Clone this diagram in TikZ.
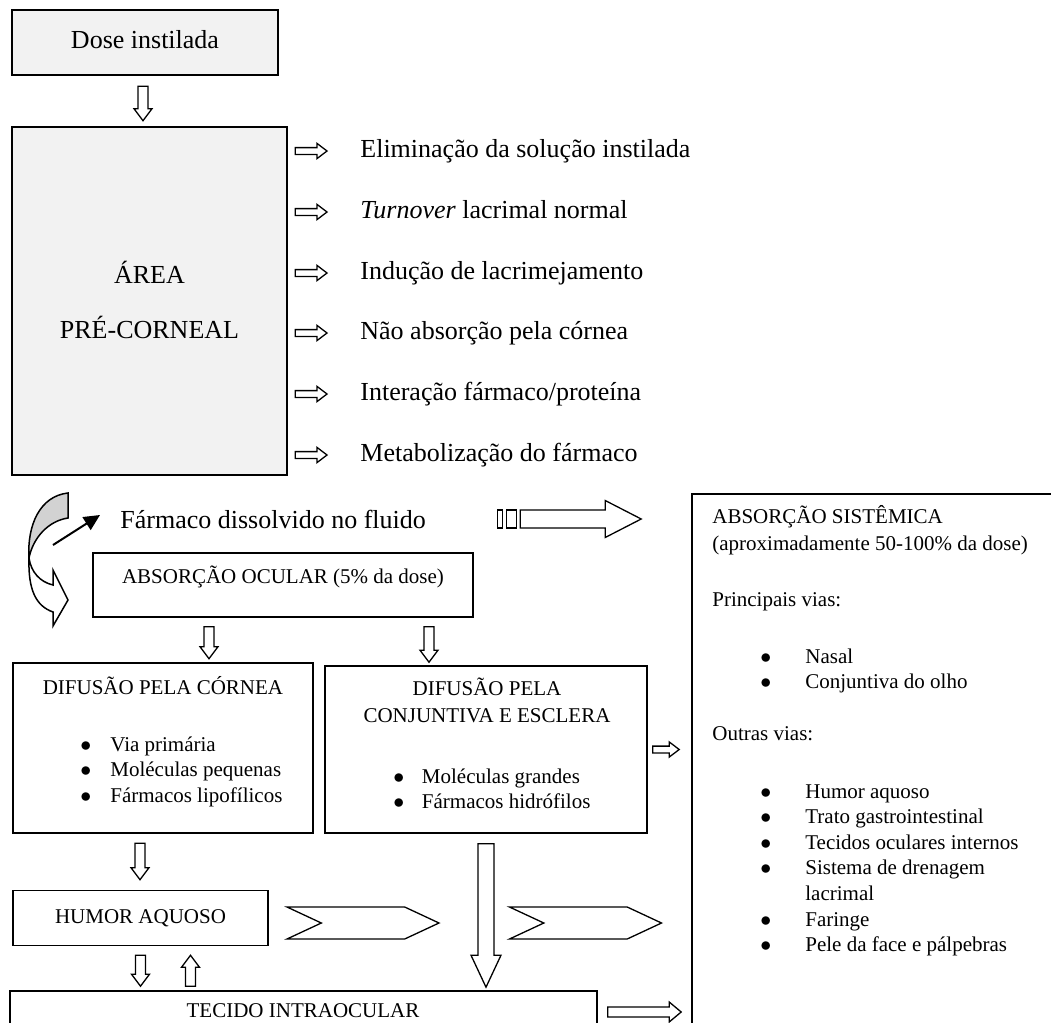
\documentclass[tikz,border=0pt]{standalone}
\usepackage{fontspec}
\setmainfont{Liberation Serif}
\usetikzlibrary{calc,shapes.symbols,arrows.meta}

\definecolor{boxgray}{RGB}{242,242,242}
\newcommand{\dotlist}[2]{\begin{tabular}[t]{@{}l@{\hspace{#1}}l@{}}#2\end{tabular}}
\newcommand{\bul}{$\bullet$}

\tikzset{
  box/.style={draw, line width=0.8pt, inner sep=0pt},
  heavy/.style={draw, line width=1.3pt, inner sep=0pt},
  big/.style={font=\fontsize{13}{15.6}\selectfont, inner sep=0pt, text height=9pt, text depth=2.8pt},
  txt/.style={font=\fontsize{10.5}{12.8}\selectfont, inner sep=0pt, text height=7.3pt, text depth=2.2pt},
  list/.style={font=\fontsize{10.5}{12.8}\selectfont, inner sep=0pt, anchor=base west},
  hollow/.style n args={3}{draw, fill=white, line width=0.65pt, to path={
    let \p1=($(\tikztotarget)!#3!(\tikztostart)$) in
    ($(\tikztostart)!#1!90:(\tikztotarget)$) -- ($(\p1)!#1!90:(\tikztotarget)$)
    -- ($(\p1)!#2!90:(\tikztotarget)$) -- (\tikztotarget)
    -- ($(\p1)!#2!-90:(\tikztotarget)$) -- ($(\p1)!#1!-90:(\tikztotarget)$)
    -- ($(\tikztostart)!#1!-90:(\tikztotarget)$) -- cycle}},
  downarrow/.style={hollow={2.5pt}{4.5pt}{6pt}},
  sidearrow/.style={hollow={1.7pt}{3.8pt}{5pt}},
  chevron/.style={draw, fill=white, line width=0.65pt, signal, signal from=west, signal to=east,
    signal pointer angle=50, minimum width=76pt, minimum height=16pt, inner sep=0pt}
}

\begin{document}
\begin{tikzpicture}[x=0.5pt, y=-0.5pt]
\useasboundingbox (0,0) rectangle (1051,1023);
\clip (0,0) rectangle (1051,1023);

% top of the flow
\node[heavy, big, fill=boxgray, minimum width=133pt, minimum height=32.5pt] (dose) at (145,42.5) {Dose instilada};
\node[heavy, fill=boxgray, minimum width=137.5pt, minimum height=174pt] (area) at (149.5,301) {};
\node[big] (area1) at (149.5,277) {ÁREA};
\node[big] (area2) at (149.5,332) {PRÉ-CORNEAL};
\draw[downarrow] ([xshift=-1pt,yshift=-5pt]dose.south) to ([xshift=-1pt,yshift=2.5pt]dose.south |- area.north);

% losses from the pre-corneal area
\foreach \y/\t [count=\i] in {151/Eliminação da solução instilada,
    212/{\textit{Turnover} lacrimal normal},
    273/Indução de lacrimejamento,
    333/Não absorção pela córnea,
    394/{Interação fármaco/proteína},
    455/Metabolização do fármaco}{
  \node[big, anchor=west] (loss\i) at (360,\y) {\t};
  \draw[sidearrow] ([xshift=3.5pt]area.east |- loss\i.west) to ([xshift=-16.5pt]loss\i.west);
}

% curved arrow and dissolved drug
\draw[line width=0.75pt, fill=gray!35] (68,493) .. controls (40,496) and (27,525) .. (29,558)
  .. controls (33,538) and (48,521) .. (68,518) -- cycle;
\draw[line width=0.75pt, fill=white] (29,558) .. controls (31,572) and (40,582) .. (53,585)
  -- (53,570) -- (68,600) -- (53,626) -- (53,612) .. controls (36,606) and (28,590) .. (29,558) -- cycle;
\node[big, anchor=west] (farm) at (120,522) {Fármaco dissolvido no fluido};
\coordinate (tail) at (53,545);
\draw[line width=1pt, -{Triangle[length=8pt, width=7.5pt]}] (tail) -- ([xshift=-10pt,yshift=3.5pt]farm.west);

% systemic absorption
\node[box, minimum width=204pt, minimum height=303pt] (sist) at (896,797) {};
\node[txt, anchor=west] (sist1) at (712,518) {ABSORÇÃO SISTÊMICA};
\node[txt, anchor=west] (sist2) at (712,545) {(aproximadamente 50-100\% da dose)};
\node[txt, anchor=west] (sist3) at (712,601) {Principais vias:};
\node[list] (sist4) at (760,663) {\dotlist{17pt}{\bul & Nasal\\ \bul & Conjuntiva do olho}};
\node[txt, anchor=west] (sist5) at (712,735) {Outras vias:};
\node[list] (sist6) at (760,798) {\dotlist{17pt}{\bul & Humor aquoso\\ \bul & Trato gastrointestinal\\
  \bul & Tecidos oculares internos\\ \bul & Sistema de drenagem\\ & lacrimal\\
  \bul & Faringe\\ \bul & Pele da face e pálpebras}};

\coordinate (stip) at ([xshift=-25pt,yshift=1.5pt]sist.west |- farm.west);
\draw[hollow={4.5pt}{9.25pt}{18pt}] ([xshift=-60.5pt]stip) to (stip);
\draw[line width=0.65pt] ([xshift=-72pt,yshift=-4.5pt]stip) rectangle ([xshift=-69.5pt,yshift=4.5pt]stip);
\draw[line width=0.65pt] ([xshift=-67.5pt,yshift=-4.5pt]stip) rectangle ([xshift=-62.5pt,yshift=4.5pt]stip);

% ocular absorption
\node[box, minimum width=190pt, minimum height=32pt] (ocular) at (283,585) {};
\node[txt] (oculartxt) at (283,578) {ABSORÇÃO OCULAR (5\% da dose)};

\node[heavy, minimum width=150pt, minimum height=85pt] (cornea) at (163,748) {};
\node[txt] (cornea1) at (163,689) {DIFUSÃO PELA CÓRNEA};
\node[list] (cornea2) at (80,751) {\dotlist{9.5pt}{\bul & Via primária\\ \bul & Moléculas pequenas\\
  \bul & Fármacos lipofílicos}};

\node[box, minimum width=161pt, minimum height=83.5pt] (conj) at (486,749.5) {};
\node[txt] (conj1) at (487,690) {DIFUSÃO PELA};
\node[txt] (conj2) at (487,717) {CONJUNTIVA E ESCLERA};
\node[list] (conj3) at (393,783) {\dotlist{8.8pt}{\bul & Moléculas grandes\\ \bul & Fármacos hidrófilos}};

\draw[downarrow] ([xshift=-37pt,yshift=-4.5pt]ocular.south) to ([xshift=-37pt,yshift=1.5pt]ocular.south |- cornea.north);
\draw[downarrow] ([xshift=73pt,yshift=-4.5pt]ocular.south) to ([xshift=73pt,yshift=1.5pt]ocular.south |- conj.north);
\draw[sidearrow] ([xshift=2.5pt]conj.east) to ([xshift=-6pt]sist.west |- conj.east);

% inside the eye
\node[box, txt, minimum width=127.5pt, minimum height=27.5pt] (humor) at (140.5,918) {HUMOR AQUOSO};
\node[box, minimum width=293.5pt, minimum height=40pt] (tecido) at (303.5,1031) {};
\node[txt] (tecidotxt) at (303,1012) {TECIDO INTRAOCULAR};

\draw[downarrow] ([xshift=-11.5pt,yshift=-4.5pt]cornea.south) to ([xshift=-11.5pt,yshift=5pt]cornea.south |- humor.north);
\draw[downarrow] ([yshift=-4.5pt]humor.south) to ([yshift=2pt]humor.south |- tecido.north);
\draw[downarrow] ([xshift=25pt,yshift=2pt]humor.south |- tecido.north) to ([xshift=25pt,yshift=-4.5pt]humor.south);
\draw[hollow={4pt}{7.5pt}{16pt}] ([yshift=-5pt]conj.south) to ([yshift=1.5pt]conj.south |- tecido.north);

\node[chevron] (chev1) at (363,923) {};
\node[chevron] (chev2) at (585.5,923) {};
\draw[hollow={2.5pt}{5pt}{6pt}] ([xshift=5pt]tecido.east |- tecidotxt) to ([xshift=-5pt]sist.west |- tecidotxt);
\end{tikzpicture}
\end{document}
